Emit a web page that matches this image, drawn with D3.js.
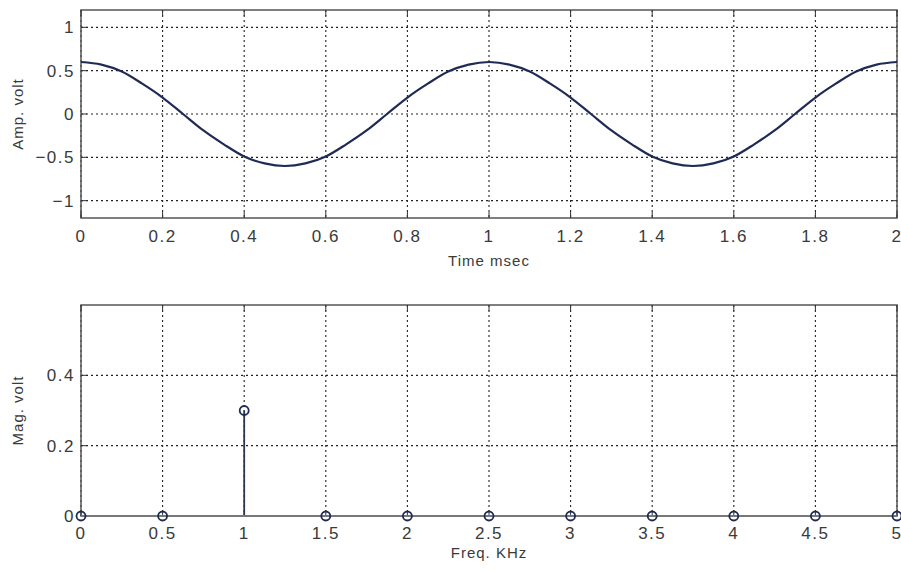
<!DOCTYPE html>
<html>
<head>
<meta charset="utf-8">
<script src="https://cdn.jsdelivr.net/npm/d3@7"></script>
<style>
  body { margin: 0; background: #fff; }
  text { font-family: "Liberation Sans", Arial, sans-serif; fill: #3a3a3a; }
</style>
</head>
<body>
<div id="chart"></div>
<script>
// time signal (t in msec, amplitude in volt)
var timeMs = [0,0.05,0.1,0.15,0.2,0.25,0.3,0.35,0.4,0.45,0.5,0.55,0.6,0.65,0.7,0.75,0.8,0.85,0.9,0.95,1,
              1.05,1.1,1.15,1.2,1.25,1.3,1.35,1.4,1.45,1.5,1.55,1.6,1.65,1.7,1.75,1.8,1.85,1.9,1.95,2];
var ampVolt = [0.6,0.57,0.49,0.35,0.19,0,-0.19,-0.35,-0.49,-0.57,-0.6,-0.57,-0.49,-0.35,-0.19,0,0.19,0.35,0.49,0.57,0.6,
               0.57,0.49,0.35,0.19,0,-0.19,-0.35,-0.49,-0.57,-0.6,-0.57,-0.49,-0.35,-0.19,0,0.19,0.35,0.49,0.57,0.6];

// spectrum stems
var freqKHz = [0,0.5,1,1.5,2,2.5,3,3.5,4,4.5,5];
var magVolt = [0,0,0.3,0,0,0,0,0,0,0,0];

// tick values
var timeTicks = [0,0.2,0.4,0.6,0.8,1,1.2,1.4,1.6,1.8,2];
var ampTicks = [-1,-0.5,0,0.5,1];
var freqTicks = [0,0.5,1,1.5,2,2.5,3,3.5,4,4.5,5];
var magTicks = [0,0.2,0.4];

var W = 901, H = 574;
var svg = d3.select("#chart").append("svg")
    .attr("width", W).attr("height", H);

var lineColor = "#1f2a55";

function panel(opts) {
  var x = d3.scaleLinear().domain(opts.xDomain).range([81, 897]);
  var y = d3.scaleLinear().domain(opts.yDomain).range([opts.bottom, opts.top]);
  var g = svg.append("g");

  // grid (dotted)
  g.selectAll(".vgrid").data(opts.xTicks).join("line")
    .attr("x1", d => x(d)).attr("x2", d => x(d))
    .attr("y1", opts.top).attr("y2", opts.bottom)
    .attr("stroke", "#222").attr("stroke-width", 1.1)
    .attr("stroke-dasharray", "2,3");
  g.selectAll(".hgrid").data(opts.yTicks).join("line")
    .attr("x1", 81).attr("x2", 897)
    .attr("y1", d => y(d)).attr("y2", d => y(d))
    .attr("stroke", "#222").attr("stroke-width", 1.1)
    .attr("stroke-dasharray", "2,3");

  // frame
  g.append("rect")
    .attr("x", 81).attr("y", opts.top)
    .attr("width", 897 - 81).attr("height", opts.bottom - opts.top)
    .attr("fill", "none").attr("stroke", "#555").attr("stroke-width", 1.5);

  // inward ticks
  g.selectAll(".xt").data(opts.xTicks).join("line")
    .attr("x1", d => x(d)).attr("x2", d => x(d))
    .attr("y1", opts.bottom).attr("y2", opts.bottom - 6)
    .attr("stroke", "#333");
  g.selectAll(".xt2").data(opts.xTicks).join("line")
    .attr("x1", d => x(d)).attr("x2", d => x(d))
    .attr("y1", opts.top).attr("y2", opts.top + 6)
    .attr("stroke", "#333");
  g.selectAll(".yt").data(opts.yTicks).join("line")
    .attr("x1", 81).attr("x2", 87)
    .attr("y1", d => y(d)).attr("y2", d => y(d))
    .attr("stroke", "#333");
  g.selectAll(".yt2").data(opts.yTicks).join("line")
    .attr("x1", 897).attr("x2", 891)
    .attr("y1", d => y(d)).attr("y2", d => y(d))
    .attr("stroke", "#333");

  // tick labels
  g.selectAll(".xl").data(opts.xTicks).join("text")
    .attr("x", d => x(d)).attr("y", opts.bottom + opts.xTickDy)
    .attr("text-anchor", "middle")
    .style("font-size", "17px").style("letter-spacing", "1.5px")
    .text(d => d3.format("~g")(d));
  g.selectAll(".yl").data(opts.yTicks).join("text")
    .attr("x", 75).attr("y", d => y(d) + 6)
    .attr("text-anchor", "end")
    .style("font-size", "17px").style("letter-spacing", "1.5px")
    .text(d => d3.format("~g")(d));

  // axis titles
  g.append("text")
    .attr("x", 489).attr("y", opts.bottom + opts.xLabelDy)
    .attr("text-anchor", "middle")
    .style("font-size", "15px").style("letter-spacing", "1px")
    .text(opts.xLabel);
  g.append("text")
    .attr("transform", "translate(23," + ((opts.top + opts.bottom) / 2) + ") rotate(-90)")
    .attr("text-anchor", "middle")
    .style("font-size", "15px").style("letter-spacing", "1px")
    .text(opts.yLabel);

  return {g: g, x: x, y: y};
}

// top: time signal
var p1 = panel({
  xDomain: [0, 2], yDomain: [-1.2, 1.2], top: 10, bottom: 218,
  xTicks: timeTicks, yTicks: ampTicks, xTickDy: 24, xLabelDy: 48,
  xLabel: "Time msec", yLabel: "Amp. volt"
});
var pts = timeMs.map((t, i) => [t, ampVolt[i]]);
p1.g.append("path")
  .datum(pts)
  .attr("fill", "none").attr("stroke", lineColor).attr("stroke-width", 2.2)
  .attr("d", d3.line().x(d => p1.x(d[0])).y(d => p1.y(d[1])).curve(d3.curveMonotoneX));

// bottom: spectrum stem plot
var p2 = panel({
  xDomain: [0, 5], yDomain: [0, 0.6], top: 305, bottom: 516,
  xTicks: freqTicks, yTicks: magTicks, xTickDy: 23, xLabelDy: 42,
  xLabel: "Freq. KHz", yLabel: "Mag. volt"
});
var stems = freqKHz.map((f, i) => ({f: f, m: magVolt[i]}));
p2.g.selectAll(".stem").data(stems).join("line")
  .attr("x1", d => p2.x(d.f)).attr("x2", d => p2.x(d.f))
  .attr("y1", p2.y(0)).attr("y2", d => p2.y(d.m))
  .attr("stroke", "#2a3550").attr("stroke-width", 1.8);
p2.g.append("line")
  .attr("x1", 81).attr("x2", 897)
  .attr("y1", p2.y(0)).attr("y2", p2.y(0))
  .attr("stroke", "#777").attr("stroke-width", 2);
p2.g.selectAll(".mk").data(stems).join("circle")
  .attr("cx", d => p2.x(d.f)).attr("cy", d => p2.y(d.m))
  .attr("r", 4.5)
  .attr("fill", "none").attr("stroke", lineColor).attr("stroke-width", 1.8);
</script>
</body>
</html>
